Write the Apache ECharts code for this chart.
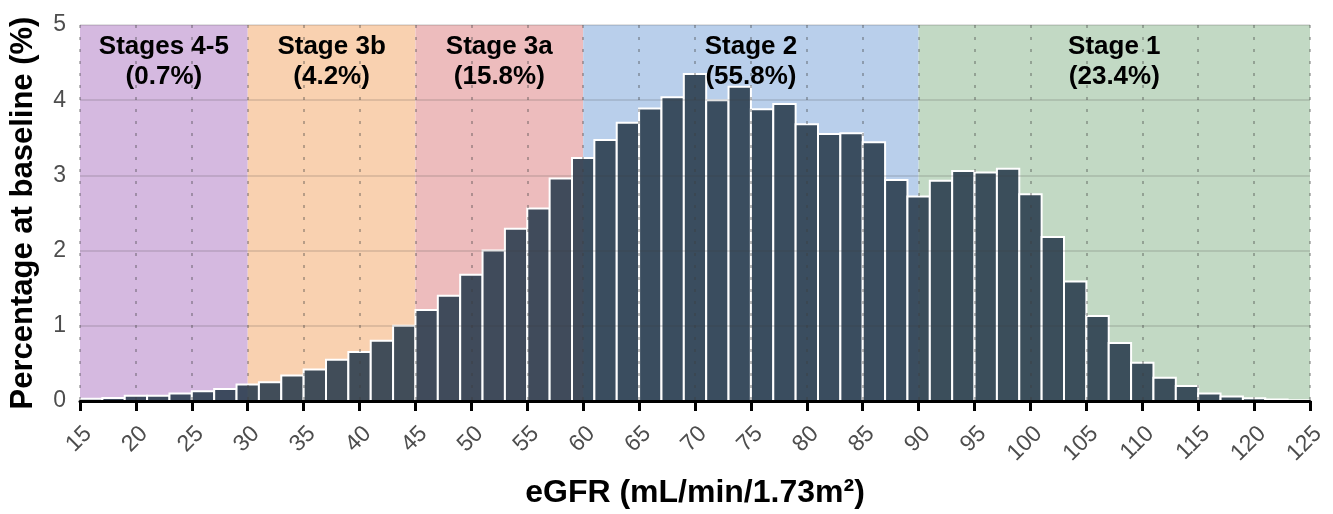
<!DOCTYPE html>
<html><head><meta charset="utf-8">
<script src="https://cdn.jsdelivr.net/npm/echarts@6/dist/echarts.min.js"></script>
<style>html,body{margin:0;padding:0;background:#fff}#c{width:1333px;height:514px}</style>
</head><body><div id="c"></div>
<script>
// eGFR histogram bins (start of each 2-unit bin) and percentage at baseline
const binStarts = [15,17,19,21,23,25,27,29,31,33,35,37,39,41,43,45,47,49,51,53,55,57,59,61,63,65,67,69,71,73,75,77,79,81,83,85,87,89,91,93,95,97,99,101,103,105,107,109,111,113,115,117,119,121,123];
const binWidth = 2;
const percentages = [0.03,0.04,0.07,0.07,0.10,0.13,0.16,0.22,0.25,0.34,0.42,0.55,0.65,0.80,1.00,1.21,1.40,1.68,2.00,2.29,2.56,2.96,3.23,3.47,3.70,3.89,4.04,4.35,4.00,4.18,3.88,3.95,3.68,3.55,3.56,3.44,2.94,2.72,2.93,3.06,3.04,3.09,2.75,2.18,1.59,1.13,0.77,0.51,0.31,0.20,0.10,0.06,0.035,0.02,0.01];

// CKD stage bands
const stageStarts = [15,30,45,60,90];
const stageEnds = [30,45,60,90,125];
const stageNames = ['Stages 4-5','Stage 3b','Stage 3a','Stage 2','Stage 1'];
const stageShares = ['(0.7%)','(4.2%)','(15.8%)','(55.8%)','(23.4%)'];
const stageColors = ['#d5b9e0','#f9d1b0','#edbcbd','#b9cfeb','#c2d9c4'];

const xMin = 15, xMax = 125, xStep = 5;
const yMin = 0, yMax = 5, yStep = 1;

const FONT = '"Liberation Sans", Arial, Helvetica, sans-serif';
const chart = echarts.init(document.getElementById('c'));

const bandData = stageStarts.map((s, i) => [s, stageEnds[i], i]);
const barData = binStarts.map((s, i) => [s, s + binWidth, percentages[i]]);

chart.setOption({
  animation: false,
  backgroundColor: '#fff',
  grid: { left: 78, right: 23, top: 25, bottom: 113, containLabel: false },
  xAxis: {
    type: 'value', min: xMin, max: xMax, interval: xStep, z: 5,
    name: 'eGFR (mL/min/1.73m²)', nameLocation: 'middle', nameGap: 76,
    nameTextStyle: { fontFamily: FONT, fontSize: 32, fontWeight: 'bold', color: '#000' },
    axisLine: { show: true, onZero: false, lineStyle: { color: '#000', width: 3 } },
    axisTick: { show: true, length: 10, lineStyle: { color: '#000', width: 3 } },
    axisLabel: { rotate: 45, fontFamily: FONT, fontSize: 23, color: '#4d4d4d', align: 'right', verticalAlign: 'top', margin: 21, showMinLabel: true, showMaxLabel: true },
    splitLine: { show: true, lineStyle: { type: [3, 9], width: 2, color: 'rgba(60,60,60,0.35)' } }
  },
  yAxis: {
    type: 'value', min: yMin, max: yMax, interval: yStep, z: 5,
    name: 'Percentage at baseline (%)', nameLocation: 'middle', nameGap: 41, nameRotate: 90,
    nameTextStyle: { fontFamily: FONT, fontSize: 31, fontWeight: 'bold', color: '#000' },
    axisLine: { show: false }, axisTick: { show: false },
    axisLabel: { fontFamily: FONT, fontSize: 23, color: '#4d4d4d', margin: 14 },
    splitLine: { show: true, lineStyle: { type: 'solid', width: 2, color: 'rgba(60,60,60,0.15)' } }
  },
  series: [
    {
      type: 'custom', z: 1, silent: true, data: bandData,
      renderItem(params, api) {
        const i = api.value(2);
        const p0 = api.coord([api.value(0), yMax]);
        const p1 = api.coord([api.value(1), yMin]);
        return { type: 'rect', shape: { x: p0[0], y: p0[1], width: p1[0] - p0[0], height: p1[1] - p0[1] }, style: { fill: stageColors[i] } };
      }
    },
    {
      type: 'custom', z: 2, silent: true, data: barData,
      renderItem(params, api) {
        const p0 = api.coord([api.value(0), api.value(2)]);
        const p1 = api.coord([api.value(1), 0]);
        return { type: 'rect', shape: { x: p0[0], y: p0[1], width: p1[0] - p0[0], height: p1[1] - p0[1] },
          style: { fill: 'rgba(44,62,80,0.9)', stroke: '#fff', lineWidth: 2 } };
      }
    },
    {
      type: 'custom', z: 6, silent: true, data: bandData,
      renderItem(params, api) {
        const i = api.value(2);
        const p0 = api.coord([api.value(0), yMax]);
        const p1 = api.coord([api.value(1), yMin]);
        return { type: 'text', style: { text: stageNames[i] + '\n' + stageShares[i], x: (p0[0] + p1[0]) / 2, y: p0[1] + 7,
          align: 'center', verticalAlign: 'top', font: 'bold 26px ' + FONT, lineHeight: 30, fill: '#000' } };
      }
    }
  ]
});
</script></body></html>
